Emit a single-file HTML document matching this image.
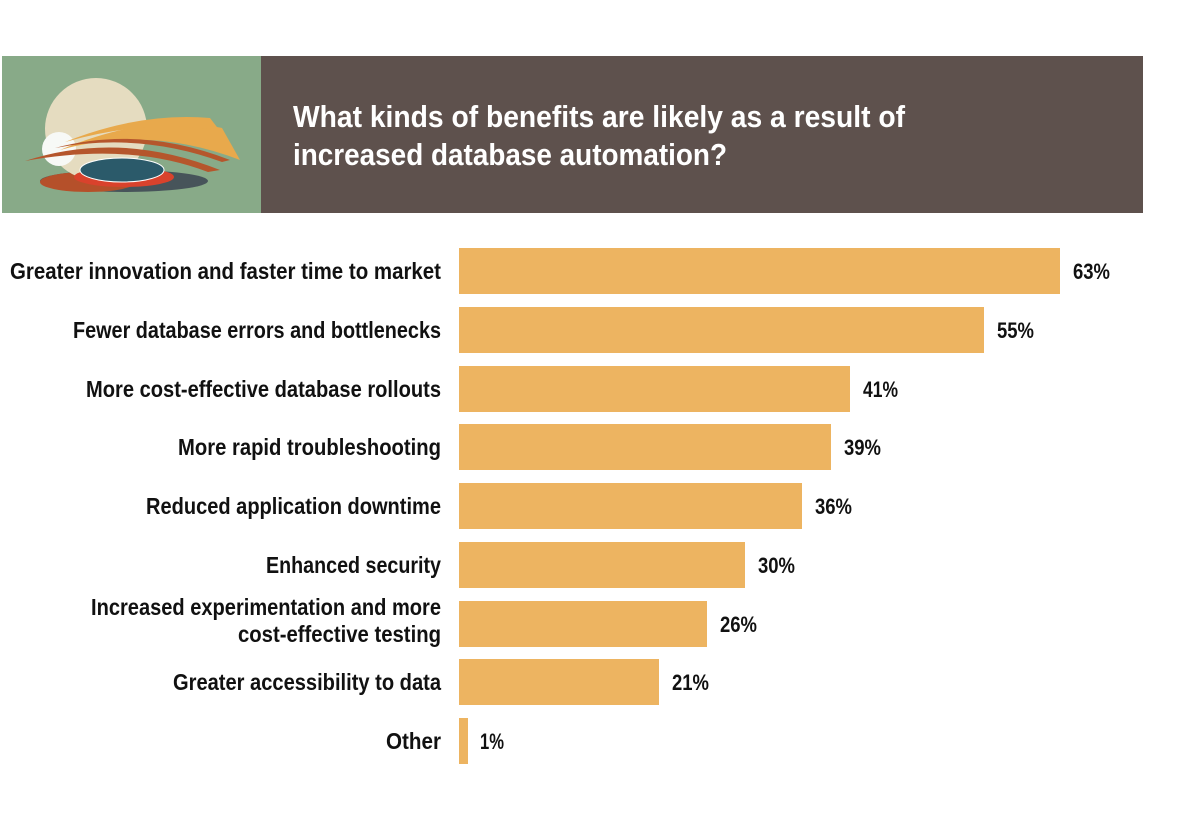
<!DOCTYPE html>
<html><head><meta charset="utf-8"><style>
html,body{margin:0;padding:0;background:#fff;}
svg{display:block}
</style></head><body>
<svg width="1200" height="821" xmlns="http://www.w3.org/2000/svg">
<rect x="0" y="0" width="1200" height="821" fill="#fff"/>
<rect x="2" y="56" width="260" height="157" fill="#88aa88"/>
<rect x="261" y="56" width="882" height="157" fill="#5e514d"/>
<!-- illustration -->
<ellipse cx="124" cy="181" rx="84" ry="11" fill="#47545a"/>
<ellipse cx="88" cy="182" rx="48" ry="10" fill="#b5502a"/>
<circle cx="96" cy="129" r="51" fill="#e5dcc0"/>
<ellipse cx="124" cy="177" rx="50" ry="10" fill="#d9422c"/>
<ellipse cx="122" cy="170" rx="42" ry="12" fill="#2b5a6a" stroke="#fff" stroke-width="1"/>
<circle cx="59" cy="149" r="17" fill="#f7f9f6"/>
<path d="M25 161 Q120 130 220 170 L208 172 Q130 142 25 161Z" fill="#b5562c"/>
<path d="M60 150 Q150 112 222 128 L240 160 Q150 125 60 150Z" fill="#e8a94c"/>
<path d="M55 148 Q140 125 230 160 L222 162 Q140 132 55 148Z" fill="#b5562c"/>
<path d="M65 142 Q140 112 210 118 L220 131 Q150 118 65 142Z" fill="#e8a94c"/>
<g font-family="'Liberation Sans Narrow','Liberation Sans', sans-serif" font-weight="bold" fill="#fff" font-size="31">
<text x="293" y="127" textLength="612" lengthAdjust="spacingAndGlyphs">What kinds of benefits are likely as a result of</text>
<text x="293" y="165" textLength="434" lengthAdjust="spacingAndGlyphs">increased database automation?</text>
</g>
<g fill="#edb461">
<rect x="459" y="248" width="601" height="46"/>
<rect x="459" y="307" width="525" height="46"/>
<rect x="459" y="366" width="391" height="46"/>
<rect x="459" y="424" width="372" height="46"/>
<rect x="459" y="483" width="343" height="46"/>
<rect x="459" y="542" width="286" height="46"/>
<rect x="459" y="601" width="248" height="46"/>
<rect x="459" y="659" width="200" height="46"/>
<rect x="459" y="718" width="9" height="46"/>
</g>
<g font-family="'Liberation Sans Narrow','Liberation Sans', sans-serif" font-weight="bold" fill="#111" font-size="23" text-anchor="end">
<text x="441" y="279" textLength="431" lengthAdjust="spacingAndGlyphs">Greater innovation and faster time to market</text>
<text x="441" y="338" textLength="368" lengthAdjust="spacingAndGlyphs">Fewer database errors and bottlenecks</text>
<text x="441" y="397" textLength="355" lengthAdjust="spacingAndGlyphs">More cost-effective database rollouts</text>
<text x="441" y="455" textLength="263" lengthAdjust="spacingAndGlyphs">More rapid troubleshooting</text>
<text x="441" y="514" textLength="295" lengthAdjust="spacingAndGlyphs">Reduced application downtime</text>
<text x="441" y="573" textLength="175" lengthAdjust="spacingAndGlyphs">Enhanced security</text>
<text x="441" y="615" textLength="350" lengthAdjust="spacingAndGlyphs">Increased experimentation and more</text>
<text x="441" y="642" textLength="203" lengthAdjust="spacingAndGlyphs">cost-effective testing</text>
<text x="441" y="690" textLength="268" lengthAdjust="spacingAndGlyphs">Greater accessibility to data</text>
<text x="441" y="749" textLength="55" lengthAdjust="spacingAndGlyphs">Other</text>
</g>
<g font-family="'Liberation Sans Narrow','Liberation Sans', sans-serif" font-weight="bold" fill="#111" font-size="22">
<text x="1073" y="279" textLength="37" lengthAdjust="spacingAndGlyphs">63%</text>
<text x="997" y="338" textLength="37" lengthAdjust="spacingAndGlyphs">55%</text>
<text x="863" y="397" textLength="35" lengthAdjust="spacingAndGlyphs">41%</text>
<text x="844" y="455" textLength="37" lengthAdjust="spacingAndGlyphs">39%</text>
<text x="815" y="514" textLength="37" lengthAdjust="spacingAndGlyphs">36%</text>
<text x="758" y="573" textLength="37" lengthAdjust="spacingAndGlyphs">30%</text>
<text x="720" y="632" textLength="37" lengthAdjust="spacingAndGlyphs">26%</text>
<text x="672" y="690" textLength="37" lengthAdjust="spacingAndGlyphs">21%</text>
<text x="480" y="749" textLength="24" lengthAdjust="spacingAndGlyphs">1%</text>
</g>
</svg>
</body></html>
